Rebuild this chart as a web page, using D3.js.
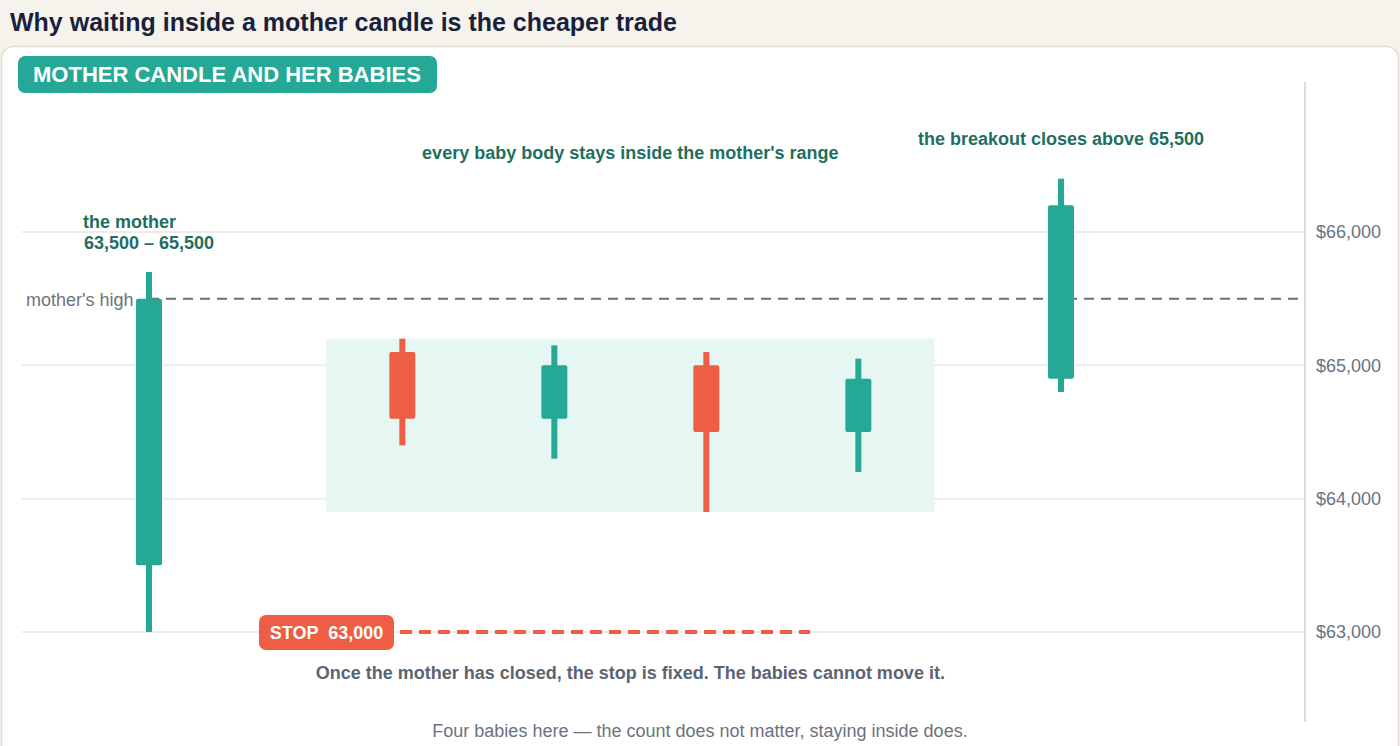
<!DOCTYPE html>
<html><head><meta charset="utf-8">
<script src="https://cdn.jsdelivr.net/npm/d3@7"></script>
<style>
html,body{margin:0;padding:0;background:#f6f3ed;}
svg{display:block;font-family:"Liberation Sans",Arial,Helvetica,sans-serif;}
</style></head>
<body>
<script>
// ---- data ----
const categories = ["Mother","Baby 1","Baby 2","Baby 3","Baby 4","Breakout"];
const slots      = [0, 5, 8, 11, 14, 18];
const opens      = [63500, 65100, 64600, 65000, 64500, 64900];
const highs      = [65700, 65200, 65150, 65100, 65050, 66400];
const lows       = [63000, 64400, 64300, 63900, 64200, 64800];
const closes     = [65500, 64600, 65000, 64500, 64900, 66200];
const yTicks     = [63000, 64000, 65000, 66000];
const motherHigh = 65500;
const stopLevel  = 63000;
const babyZone   = [63900, 65200];   // shaded region
const zoneSlots  = [3.5, 15.5];
const stopSlots  = [13.05];

const W = 1400, H = 746;
const TEAL = "#26a896", RED = "#ee5e44", ANNO = "#1f6f60", GRAY = "#6b7280";

const svg = d3.select("body").append("svg").attr("width", W).attr("height", H);

// title
svg.append("text").attr("x", 10).attr("y", 31)
  .attr("font-size", 25).attr("font-weight", 700).attr("fill", "#1a1f3d")
  .text("Why waiting inside a mother candle is the cheaper trade");

// card
svg.append("rect").attr("x", 1.5).attr("y", 46.5).attr("width", 1397).attr("height", 710)
  .attr("rx", 12).attr("fill", "#ffffff").attr("stroke", "#e2ddd2").attr("stroke-width", 1.5);

// badge
svg.append("rect").attr("x", 18).attr("y", 56).attr("width", 419).attr("height", 37)
  .attr("rx", 7).attr("fill", TEAL);
svg.append("text").attr("x", 33).attr("y", 82)
  .attr("font-size", 22).attr("font-weight", 700).attr("fill", "#fff")
  .text("MOTHER CANDLE AND HER BABIES");

const x = d3.scaleLinear().domain([0, 18]).range([149, 1061]);
const y = d3.scaleLinear().domain([63000, 66000]).range([632, 232]);
const plotL = 22, plotR = 1305;

// gridlines
svg.append("g").selectAll("line").data(yTicks).join("line")
  .attr("x1", plotL).attr("x2", plotR).attr("y1", d => y(d)).attr("y2", d => y(d))
  .attr("stroke", "#ececec").attr("stroke-width", 2);

// right axis
const axis = d3.axisRight(y).tickValues(yTicks).tickSize(0).tickPadding(11)
  .tickFormat(d => "$" + d3.format(",")(d));
const ga = svg.append("g").attr("transform", `translate(${plotR},0)`).call(axis);
ga.select(".domain").remove();
ga.selectAll("text").attr("font-size", 18).attr("fill", GRAY)
  .attr("font-family", "'Liberation Sans',Arial,sans-serif");
svg.append("line").attr("x1", plotR).attr("x2", plotR).attr("y1", 82).attr("y2", 722)
  .attr("stroke", "#dedad0").attr("stroke-width", 2);

// baby zone
svg.append("rect").attr("x", x(zoneSlots[0])).attr("width", x(zoneSlots[1]) - x(zoneSlots[0]))
  .attr("y", y(babyZone[1])).attr("height", y(babyZone[0]) - y(babyZone[1]))
  .attr("fill", "#e6f6f2");

// mother's high line
svg.append("line").attr("x1", x(0)).attr("x2", plotR)
  .attr("y1", y(motherHigh)).attr("y2", y(motherHigh))
  .attr("stroke", "#6b6f78").attr("stroke-width", 2).attr("stroke-dasharray", "10,7");
svg.append("text").attr("x", 26).attr("y", y(motherHigh) + 7)
  .attr("font-size", 18).attr("fill", GRAY).text("mother's high");

// candles
const candles = categories.map((c, i) => ({c, s: slots[i], o: opens[i], h: highs[i], l: lows[i], cl: closes[i]}));
const g = svg.append("g");
g.selectAll(".wick").data(candles).join("rect")
  .attr("x", d => x(d.s) - 3).attr("width", 6)
  .attr("y", d => y(d.h)).attr("height", d => y(d.l) - y(d.h))
  .attr("fill", d => d.cl >= d.o ? TEAL : RED);
g.selectAll(".body").data(candles).join("rect")
  .attr("x", d => x(d.s) - 13).attr("width", 26)
  .attr("y", d => y(Math.max(d.o, d.cl))).attr("height", d => Math.abs(y(d.o) - y(d.cl)))
  .attr("rx", 2).attr("fill", d => d.cl >= d.o ? TEAL : RED);

// stop line + pill
const pillX = 259, pillW = 135;
svg.append("line").attr("x1", pillX + pillW + 6).attr("x2", x(stopSlots[0]))
  .attr("y1", y(stopLevel)).attr("y2", y(stopLevel))
  .attr("stroke", RED).attr("stroke-width", 4).attr("stroke-dasharray", "12,7");
svg.append("rect").attr("x", pillX).attr("y", y(stopLevel) - 17).attr("width", pillW).attr("height", 35)
  .attr("rx", 7).attr("fill", RED);
svg.append("text").attr("x", pillX + pillW / 2).attr("y", y(stopLevel) + 7)
  .attr("text-anchor", "middle").attr("font-size", 18).attr("font-weight", 700).attr("fill", "#fff")
  .attr("xml:space", "preserve").style("white-space", "pre")
  .text("STOP  " + d3.format(",")(stopLevel));

// annotations
const anno = (tx, ty, t, anchor) => svg.append("text").attr("x", tx).attr("y", ty)
  .attr("text-anchor", anchor || "start").attr("font-size", 18).attr("font-weight", 700)
  .attr("fill", ANNO).text(t);
anno(83, 228, "the mother");
anno(84, 249, "63,500 – 65,500");
anno((x(zoneSlots[0]) + x(zoneSlots[1])) / 2, 159, "every baby body stays inside the mother's range", "middle");
anno(x(18), 145, "the breakout closes above 65,500", "middle");

svg.append("text").attr("x", (x(zoneSlots[0]) + x(zoneSlots[1])) / 2).attr("y", 679)
  .attr("text-anchor", "middle").attr("font-size", 18).attr("font-weight", 700).attr("fill", "#5c6474")
  .text("Once the mother has closed, the stop is fixed. The babies cannot move it.");
svg.append("text").attr("x", 700).attr("y", 737)
  .attr("text-anchor", "middle").attr("font-size", 18).attr("fill", GRAY)
  .text("Four babies here — the count does not matter, staying inside does.");
</script>
</body></html>
